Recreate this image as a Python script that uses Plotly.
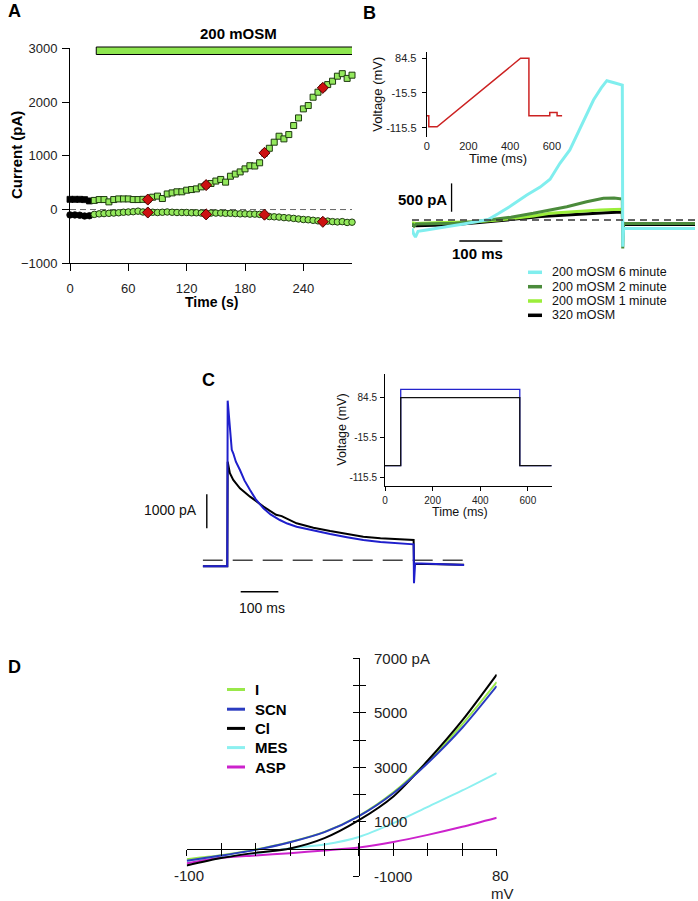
import plotly.graph_objects as go

W, H = 698, 901
FONT = "Arial, Liberation Sans, Helvetica, sans-serif"


def fx(px):
    return px / W


def fy(py):
    return 1 - py / H


# ---------------- Panel A data ----------------
A_time_ctrl = [0, 5, 10, 15, 20]
A_sq_ctrl = [190, 190, 190, 185, 160]
A_circ_ctrl = [-100, -100, -105, -120, -115]
A_time_hypo = [25, 30, 35, 40, 45, 50, 55, 60, 65, 70, 75, 80, 85, 90, 95, 100, 105, 110,
               115, 120, 125, 130, 135, 140, 145, 150, 155, 160, 165, 170, 175, 180, 185,
               190, 195, 200, 205, 210, 215, 220, 225, 230, 235, 240, 245, 250, 255, 260,
               265, 270, 275, 280, 285, 290]
A_sq_hypo = [170, 186, 186, 143, 186, 198, 198, 198, 186, 186, 190, 186, 230, 250, 205, 290,
             310, 330, 330, 360, 372, 385, 422, 455, 485, 530, 560, 510, 620, 660, 700, 757,
             815, 810, 870, 1050, 1140, 1253, 1364, 1315, 1395, 1563, 1705, 1873, 1935, 2090,
             2183, 2264, 2325, 2388, 2481, 2528, 2440, 2500]
A_circ_hypo = [-90, -80, -75, -70, -65, -60, -50, -45, -40, -30, -45, -55, -50, -55, -50, -45,
               -50, -55, -55, -55, -60, -60, -65, -75, -65, -65, -65, -70, -70, -75, -80, -80,
               -85, -85, -90, -95, -130, -135, -140, -150, -155, -165, -175, -185, -190, -200,
               -210, -225, -215, -225, -230, -225, -240, -235]
A_time_marks = [80, 140, 200, 260]
A_sq_marks = [186, 455, 1054, 2264]
A_circ_marks = [-55, -90, -95, -228]
A_bar_start, A_bar_end = 27, 293
A_xticks = [0, 60, 120, 180, 240]
A_yticks = [-1000, 0, 1000, 2000, 3000]

# ---------------- Panel B data ----------------
B_prot_t = [0, 10, 10, 50, 450, 490, 490, 590, 590, 625, 625, 650]
B_prot_v = [-81, -81, -113, -113, 84.5, 84.5, -81, -81, -72, -72, -81, -81]

B_cyan_t = [0, 4, 8, 14, 30, 50, 80, 120, 150, 177, 200, 230, 267, 298, 321, 344, 367, 383,
            400, 422, 440, 453, 470, 489, 490, 492, 560, 658]
B_cyan_i = [-150, -250, -300, -200, -180, -160, -120, -70, -30, 10, 110, 250, 441, 580, 720,
            1000, 1235, 1500, 1780, 2116, 2330, 2457, 2420, 2380, -470, -150, -150, -150]
B_dkg_t = [0, 5, 10, 50, 100, 150, 181, 230, 282, 320, 360, 406, 445, 470, 489, 490, 492, 658]
B_dkg_i = [-60, -110, -70, -60, -55, -25, 0, 50, 118, 170, 235, 323, 383, 390, 370, -500, -60, -60]
B_ltg_t = [0, 10, 50, 100, 150, 200, 243, 282, 321, 360, 400, 437, 470, 489, 490, 492, 658]
B_ltg_i = [-50, -60, -50, -45, -30, 0, 30, 70, 118, 140, 160, 176, 185, 190, -200, -60, -60]
B_blk_t = [0, 10, 50, 100, 150, 200, 250, 300, 350, 400, 450, 489, 490, 492, 658]
B_blk_i = [-90, -100, -90, -80, -50, -10, 25, 60, 85, 110, 130, 140, -150, -80, -80]
B_legend = ["200 mOSM 6 minute", "200 mOSM 2 minute", "200 mOSM 1 minute", "320 mOSM"]

# ---------------- Panel C data ----------------
C_prot_t = [0, 66, 66, 566, 566, 700]
C_prot_black = [-85.5, -85.5, 84.5, 84.5, -85.5, -85.5]
C_prot_blue = [-85.5, -85.5, 105.5, 105.5, -85.5, -85.5]

C_blue_t = [-67, -1, 0, 2, 4, 8, 11, 15, 22, 33, 45, 60, 75, 96, 115, 140, 160, 185, 230, 275,
            320, 364, 410, 453, 499, 500, 501, 503, 635]
C_blue_i = [-176, -176, 4694, 4400, 4029, 3500, 3250, 3147, 2900, 2656, 2350, 2068, 1800, 1529,
            1350, 1185, 1080, 988, 870, 773, 680, 597, 540, 500, 470, -676, -200, -88, -138]
C_black_t = [-67, -1, 0, 3, 6, 15, 33, 60, 96, 130, 145, 185, 230, 275, 320, 364, 410, 453,
             499, 500, 502, 635]
C_black_i = [-176, -176, 2900, 2700, 2559, 2362, 2118, 1872, 1578, 1340, 1300, 1088, 960, 862,
             770, 694, 650, 618, 600, -150, -100, -130]

# ---------------- Panel D data ----------------
D_v = [-100, -80, -60, -40, -20, 0, 20, 40, 60, 80]
D_I = [-370, -230, -20, 260, 630, 1220, 2080, 3230, 4580, 6130]
D_SCN = [-430, -240, -30, 250, 620, 1210, 2050, 3160, 4450, 5980]
D_Cl = [-600, -330, -140, 20, 400, 1060, 1930, 3250, 4720, 6400]
D_MES = [-420, -300, -170, 30, 170, 445, 950, 1550, 2150, 2790]
D_ASP = [-520, -320, -233, -150, -49, 60, 259, 520, 815, 1148]
D_names = ["I", "SCN", "Cl", "MES", "ASP"]
D_colors = ["#99e84a", "#2b3cc0", "#000000", "#8cf0f0", "#cc22cc"]
D_xticks = [-100, -80, -60, -40, -20, 0, 20, 40, 60, 80]
D_yticks = [-1000, 0, 1000, 2000, 3000, 4000, 5000, 6000, 7000]

GREEN = "#93e85c"
EDGE = "#1e3a10"

fig = go.Figure()

# Panel A traces
fig.add_trace(go.Scatter(x=A_time_ctrl, y=A_sq_ctrl, mode="markers", xaxis="x", yaxis="y",
                         marker=dict(symbol="square", size=6, color="black", line=dict(width=0.8, color="black")),
                         cliponaxis=False))
fig.add_trace(go.Scatter(x=A_time_hypo, y=A_sq_hypo, mode="markers", xaxis="x", yaxis="y",
                         marker=dict(symbol="square", size=6, color=GREEN, line=dict(width=1, color=EDGE)),
                         cliponaxis=False))
fig.add_trace(go.Scatter(x=A_time_ctrl, y=A_circ_ctrl, mode="markers", xaxis="x", yaxis="y",
                         marker=dict(symbol="circle", size=6.5, color="black", line=dict(width=0.8, color="black")),
                         cliponaxis=False))
fig.add_trace(go.Scatter(x=A_time_hypo, y=A_circ_hypo, mode="markers", xaxis="x", yaxis="y",
                         marker=dict(symbol="circle", size=6.5, color=GREEN, line=dict(width=1, color=EDGE)),
                         cliponaxis=False))
for ys in (A_sq_marks, A_circ_marks):
    fig.add_trace(go.Scatter(x=A_time_marks, y=ys, mode="markers", xaxis="x", yaxis="y",
                             marker=dict(symbol="diamond", size=8.5, color="#cc1111",
                                         line=dict(width=1, color="#4a0000")),
                             cliponaxis=False))

# Panel B inset protocol
fig.add_trace(go.Scatter(x=B_prot_t, y=B_prot_v, mode="lines", xaxis="x2", yaxis="y2",
                         line=dict(color="#cc2222", width=1.5), cliponaxis=False))

# Panel B current traces
B_trace_specs = [
    (B_blk_t, B_blk_i, "#000000"),
    (B_ltg_t, B_ltg_i, "#9bee3a"),
    (B_dkg_t, B_dkg_i, "#4b8b3b"),
    (B_cyan_t, B_cyan_i, "#80eeee"),
]
for t, i, c in B_trace_specs:
    fig.add_trace(go.Scatter(x=t, y=i, mode="lines", xaxis="x3", yaxis="y3",
                             line=dict(color=c, width=3), cliponaxis=False))

# Panel C inset protocol
fig.add_trace(go.Scatter(x=C_prot_t, y=C_prot_blue, mode="lines", xaxis="x4", yaxis="y4",
                         line=dict(color="#2323cc", width=1.3), cliponaxis=False))
fig.add_trace(go.Scatter(x=C_prot_t, y=C_prot_black, mode="lines", xaxis="x4", yaxis="y4",
                         line=dict(color="#111111", width=1.3), cliponaxis=False))

# Panel C current traces
fig.add_trace(go.Scatter(x=C_black_t, y=C_black_i, mode="lines", xaxis="x5", yaxis="y5",
                         line=dict(color="#000000", width=2), cliponaxis=False))
fig.add_trace(go.Scatter(x=C_blue_t, y=C_blue_i, mode="lines", xaxis="x5", yaxis="y5",
                         line=dict(color="#1f1fcc", width=2), cliponaxis=False))

# Panel D I-V curves
D_series = [D_I, D_SCN, D_Cl, D_MES, D_ASP]
for k in [3, 4, 0, 2, 1]:
    fig.add_trace(go.Scatter(x=D_v, y=D_series[k], mode="lines", xaxis="x6", yaxis="y6",
                             line=dict(color=D_colors[k], width=2, shape="spline", smoothing=0.8),
                             cliponaxis=False))
# invisible anchor trace for overlay tick axes
fig.add_trace(go.Scatter(x=[D_xticks[0]], y=[D_yticks[0]], mode="markers", xaxis="x7", yaxis="y7",
                         marker=dict(opacity=0), hoverinfo="skip"))

tick_font = dict(family=FONT, size=13, color="#222")

# axis geometry for D
D_xdom = (186.7, 496.7)
D_ydom = (876.3, 658.3)
D_zero_y_px = D_ydom[0] - (0 - D_yticks[0]) / (D_yticks[-1] - D_yticks[0]) * (D_ydom[0] - D_ydom[1])
D_zero_x_px = D_xdom[0] + (0 - D_xticks[0]) / (D_xticks[-1] - D_xticks[0]) * (D_xdom[1] - D_xdom[0])

common_hidden = dict(visible=False, showgrid=False, zeroline=False, automargin=False)
base = dict(automargin=False, showgrid=False, zeroline=False)

fig.update_layout(
    width=W, height=H, margin=dict(l=0, r=0, t=0, b=0, pad=0, autoexpand=False),
    paper_bgcolor="white", plot_bgcolor="rgba(0,0,0,0)",
    showlegend=False, font=dict(family=FONT, color="#222"),
    # Panel A
    xaxis=dict(domain=[fx(70), fx(352)], range=[0, 290], anchor="y", showline=True,
               linecolor="black", linewidth=1, ticks="outside", ticklen=7, tickcolor="black",
               tickvals=A_xticks, tickfont=tick_font, ticklabelstandoff=6, **base),
    yaxis=dict(domain=[fy(263.3), fy(48.3)], range=[-1000, 3000], anchor="x", showline=True,
               linecolor="black", linewidth=1, ticks="outside", ticklen=7, tickcolor="black",
               tickvals=A_yticks, tickfont=tick_font, ticklabelstandoff=2, **base),
    # Panel B inset
    xaxis2=dict(domain=[fx(426.7), fx(562.3)], range=[0, 650], anchor="y2", showline=False,
                ticks="", tickvals=[0, 200, 400, 600], tickfont=dict(family=FONT, size=11, color="#222"),
                ticklabelstandoff=1, **base),
    yaxis2=dict(domain=[fy(136.7), fy(51.7)], range=[-141.5, 103.5], anchor="x2", showline=True,
                linecolor="black", linewidth=1, ticks="outside", ticklen=4, tickcolor="black",
                tickvals=[-115.5, -15.5, 84.5], ticktext=["-115.5", "-15.5", "84.5"],
                tickfont=dict(family=FONT, size=11, color="#222"), ticklabelstandoff=3, **base),
    # Panel B main
    xaxis3=dict(domain=[fx(412), fx(695)], range=[0, 658], anchor="y3", **common_hidden),
    yaxis3=dict(domain=[fy(260), fy(60)], range=[-705, 2822], anchor="x3", **common_hidden),
    # Panel C inset
    xaxis4=dict(domain=[fx(385), fx(551.7)], range=[0, 700], anchor="y4", showline=True,
                linecolor="black", linewidth=1, ticks="outside", ticklen=4, tickcolor="black",
                tickvals=[0, 200, 400, 600], tickfont=dict(family=FONT, size=10, color="#222"),
                ticklabelstandoff=1, **base),
    yaxis4=dict(domain=[fy(486), fy(374.3)], range=[-136.3, 143], anchor="x4", showline=True,
                linecolor="black", linewidth=1, ticks="outside", ticklen=4, tickcolor="black",
                tickvals=[-115.5, -15.5, 84.5], ticktext=["-115.5", "-15.5", "84.5"],
                tickfont=dict(family=FONT, size=10, color="#222"), ticklabelstandoff=1, **base),
    # Panel C main
    xaxis5=dict(domain=[fx(202.7), fx(464.3)], range=[-67, 635], anchor="y5", **common_hidden),
    yaxis5=dict(domain=[fy(600), fy(380)], range=[-1168, 5303], anchor="x5", **common_hidden),
    # Panel D
    xaxis6=dict(domain=[fx(D_xdom[0]), fx(D_xdom[1])], range=[D_xticks[0], D_xticks[-1]],
                anchor="free", position=fy(D_zero_y_px), showline=True, linecolor="black",
                linewidth=1.2, ticks="outside", ticklen=6, tickwidth=1.2, tickcolor="black",
                tickvals=D_xticks, showticklabels=False, **base),
    yaxis6=dict(domain=[fy(D_ydom[0]), fy(D_ydom[1])], range=[D_yticks[0], D_yticks[-1]],
                anchor="free", position=fx(D_zero_x_px), showline=True, linecolor="black",
                linewidth=1.2, ticks="outside", ticklen=6, tickwidth=1.2, tickcolor="black",
                tickvals=D_yticks, showticklabels=False, **base),
    xaxis7=dict(domain=[fx(D_xdom[0]), fx(D_xdom[1])], range=[D_xticks[0], D_xticks[-1]],
                overlaying="x6", anchor="free", position=fy(D_zero_y_px), showline=False,
                ticks="inside", ticklen=6, tickwidth=1.2, tickcolor="black", tickvals=D_xticks,
                showticklabels=False, **base),
    yaxis7=dict(domain=[fy(D_ydom[0]), fy(D_ydom[1])], range=[D_yticks[0], D_yticks[-1]],
                overlaying="y6", anchor="free", position=fx(D_zero_x_px), showline=False,
                ticks="inside", ticklen=6, tickwidth=1.2, tickcolor="black", tickvals=D_yticks,
                showticklabels=False, **base),
)

shapes = []
# Panel A application bar and zero line
shapes.append(dict(type="rect", xref="x", yref="paper", x0=A_bar_start, x1=A_bar_end,
                   y0=fy(54.5), y1=fy(47), fillcolor="#8ee64f", line=dict(color="black", width=1)))
shapes.append(dict(type="line", xref="x", yref="y", x0=0, x1=A_bar_end, y0=0, y1=0,
                   line=dict(color="#666", width=1, dash="6px,4px"), layer="below"))
# Panel B baseline and scale bars
shapes.append(dict(type="line", xref="x3", yref="y3", x0=0, x1=658, y0=0, y1=0,
                   line=dict(color="#333", width=1.3, dash="7px,5px"), layer="above"))
shapes.append(dict(type="line", xref="x3", yref="y3", x0=92, x1=92, y0=146, y1=646,
                   line=dict(color="black", width=1.3)))
shapes.append(dict(type="line", xref="x3", yref="y3", x0=110, x1=210, y0=-370, y1=-370,
                   line=dict(color="black", width=1.3)))
# Panel C baseline and scale bars
shapes.append(dict(type="line", xref="x5", yref="y5", x0=-67, x1=635, y0=0, y1=0,
                   line=dict(color="#444", width=1.4, dash="20px,10px"), layer="below"))
shapes.append(dict(type="line", xref="x5", yref="y5", x0=-56, x1=-56, y0=941, y1=1941,
                   line=dict(color="black", width=1.4)))
shapes.append(dict(type="line", xref="x5", yref="y5", x0=35, x1=136, y0=-924, y1=-924,
                   line=dict(color="black", width=1.4)))

# Legends (manual)
B_leg_colors = ["#80eeee", "#4b8b3b", "#9bee3a", "#000000"]
B_leg_y = [272.3, 286.7, 301, 315.3]
for c, yy in zip(B_leg_colors, B_leg_y):
    shapes.append(dict(type="line", xref="paper", yref="paper", x0=fx(528), x1=fx(542),
                       y0=fy(yy), y1=fy(yy), line=dict(color=c, width=3.5)))
D_leg_y = [689.5, 709.2, 728.4, 747.6, 767.0]
for c, yy in zip(D_colors, D_leg_y):
    shapes.append(dict(type="line", xref="paper", yref="paper", x0=fx(227), x1=fx(245),
                       y0=fy(yy), y1=fy(yy), line=dict(color=c, width=3)))

fig.update_layout(shapes=shapes)

ann = []


def txt(text, x, y, size, bold=False, xanchor="center", yanchor="middle", angle=0, color="#111"):
    t = f"<b>{text}</b>" if bold else text
    ann.append(dict(text=t, x=fx(x), y=fy(y), xref="paper", yref="paper", showarrow=False,
                    xanchor=xanchor, yanchor=yanchor, textangle=angle,
                    font=dict(family=FONT, size=size, color=color), borderpad=0))


# Panel labels
txt("A", 14.5, 11, 18, bold=True, color="#000")
txt("B", 369.5, 12.5, 18, bold=True, color="#000")
txt("C", 208, 380, 18, bold=True, color="#000")
txt("D", 14.5, 667, 18, bold=True, color="#000")

# Panel A texts
txt("200 mOSM", 238.3, 33.3, 15, bold=True, color="#000")
txt("Current (pA)", 16, 155, 15, bold=True, angle=-90, color="#000")
txt("Time (s)", 211, 302, 14, bold=True, color="#000")

# Panel B texts
txt("Voltage (mV)", 377.8, 94, 13, angle=-90)
txt("Time (ms)", 498.3, 158.3, 13)
txt("500 pA", 447.5, 199.3, 15, bold=True, xanchor="right", color="#000")
txt("100 ms", 477.5, 253.3, 15, bold=True, color="#000")
for name, yy in zip(B_legend, B_leg_y):
    txt(name, 550.7, yy, 12.5, xanchor="left")

# Panel C texts
txt("1000 pA", 198.3, 510, 14, xanchor="right")
txt("100 ms", 261.7, 608.3, 14)
txt("Voltage (mV)", 341.7, 430, 12.5, angle=-90)
txt("Time (ms)", 460, 511.7, 12.5)

# Panel D texts
for name, yy in zip(D_names, D_leg_y):
    txt(name, 253.5, yy, 15, bold=True, xanchor="left", color="#000")
D_ylabels = {7000: "7000 pA", 5000: "5000", 3000: "3000", 1000: "1000", -1000: "-1000"}
for v, lab in D_ylabels.items():
    ann.append(dict(text=lab, x=0, y=v, xref="x6", yref="y6", showarrow=False, xanchor="left",
                    yanchor="middle", xshift=13, font=dict(family=FONT, size=15, color="#222")))
ann.append(dict(text="-100", x=D_xticks[0], y=0, xref="x6", yref="y6", showarrow=False,
                xanchor="center", yanchor="middle", yshift=-26, xshift=2,
                font=dict(family=FONT, size=15, color="#222")))
ann.append(dict(text="80", x=D_xticks[-1], y=0, xref="x6", yref="y6", showarrow=False,
                xanchor="center", yanchor="middle", yshift=-26, xshift=4,
                font=dict(family=FONT, size=15, color="#222")))
ann.append(dict(text="mV", x=D_xticks[-1], y=0, xref="x6", yref="y6", showarrow=False,
                xanchor="center", yanchor="middle", yshift=-44, xshift=6,
                font=dict(family=FONT, size=15, color="#222")))

fig.update_layout(annotations=ann)

fig.write_html("out.html", config={"displayModeBar": False},
               post_script="document.body.style.margin='0px';document.body.style.padding='0px';")
